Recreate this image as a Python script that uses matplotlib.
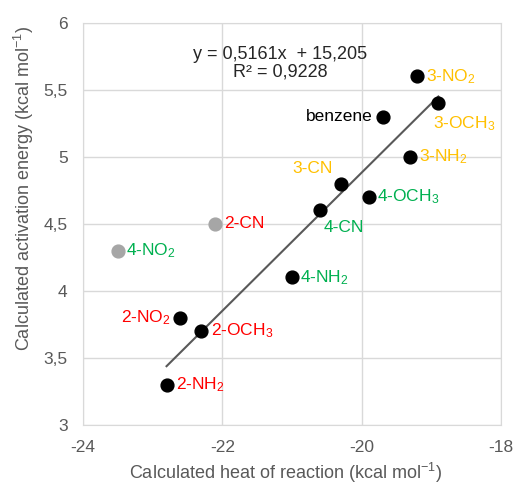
import numpy as np
import matplotlib
matplotlib.use('Agg')
import matplotlib.pyplot as plt

plt.rcParams['font.family'] = ['Liberation Sans', 'DejaVu Sans']
plt.rcParams['mathtext.default'] = 'regular'

# data
labels = ['3-NO$_2$', '3-OCH$_3$', 'benzene', '3-NH$_2$', '3-CN', '4-OCH$_3$',
          '4-CN', '4-NH$_2$', '2-NO$_2$', '2-OCH$_3$', '2-NH$_2$']
heat = [-19.2, -18.9, -19.7, -19.3, -20.3, -19.9, -20.6, -21.0, -22.6, -22.3, -22.8]
energy = [5.6, 5.4, 5.3, 5.0, 4.8, 4.7, 4.6, 4.1, 3.8, 3.7, 3.3]

# excluded (grey) points
out_labels = ['2-CN', '4-NO$_2$']
out_heat = [-22.1, -23.5]
out_energy = [4.5, 4.3]

orange = '#FFC000'
red = '#FF0000'
green = '#00B050'
label_colors = [orange, orange, 'black', orange, orange, green,
                green, green, red, red, red]
out_colors = [red, green]

# where each label goes: (dx, dy) in points, ha
offsets = [(6, 0, 'left'), (-4, -15, 'left'), (-7, 0, 'right'), (6, 0, 'left'),
           (-6, 11, 'right'), (6, 0, 'left'), (3, -12, 'left'), (6, 0, 'left'),
           (-7, 0, 'right'), (7, 0, 'left'), (7, 0, 'left')]
out_offsets = [(6, 0, 'left'), (6, 0, 'left')]

fig = plt.figure(figsize=(5.15, 4.86), dpi=100)
ax = fig.add_axes([0.161, 0.126, 0.812, 0.827])

grid_c = '#D9D9D9'
text_c = '#595959'
fs = 12.5

ax.set_xlim(-24, -18)
ax.set_ylim(3, 6)
ax.set_xticks([-24, -22, -20, -18])
ax.set_xticklabels(['-24', '-22', '-20', '-18'])
yt = [3, 3.5, 4, 4.5, 5, 5.5, 6]
ax.set_yticks(yt)
ax.set_yticklabels([('%g' % v).replace('.', ',') for v in yt])
ax.grid(True, color=grid_c, linewidth=1)
ax.set_axisbelow(True)
for s in ax.spines.values():
    s.set_color(grid_c)
ax.tick_params(length=0, labelsize=fs, colors=text_c)
ax.tick_params(axis='y', pad=11)
ax.tick_params(axis='x', pad=11)

# trendline over black points
k, b = np.polyfit(heat, energy, 1)
xs = np.array([min(heat), max(heat)])
ax.plot(xs, k * xs + b, color='#595959', linewidth=1.5, zorder=2)

ax.scatter(heat, energy, s=85, color='black', zorder=3)
ax.scatter(out_heat, out_energy, s=85, color='#A6A6A6', zorder=3)

for x, y, t, c, (dx, dy, ha) in zip(heat, energy, labels, label_colors, offsets):
    ax.annotate(t, (x, y), xytext=(dx, dy), textcoords='offset points',
                ha=ha, va='center', color=c, fontsize=fs)
for x, y, t, c, (dx, dy, ha) in zip(out_heat, out_energy, out_labels, out_colors, out_offsets):
    ax.annotate(t, (x, y), xytext=(dx, dy), textcoords='offset points',
                ha=ha, va='center', color=c, fontsize=fs)

ax.text(-21.17, 5.70, 'y = 0,5161x  + 15,205\nR² = 0,9228', ha='center', va='center',
        fontsize=13, color='#262626', linespacing=1.05)

ax.set_xlabel('Calculated heat of reaction (kcal mol$^{-1}$)', fontsize=13,
              color=text_c, labelpad=4.5, x=0.484)
ax.set_ylabel('Calculated activation energy (kcal mol$^{-1}$)', fontsize=13,
              color=text_c, labelpad=5, y=0.587)

fig.savefig('out.png', dpi=100)
